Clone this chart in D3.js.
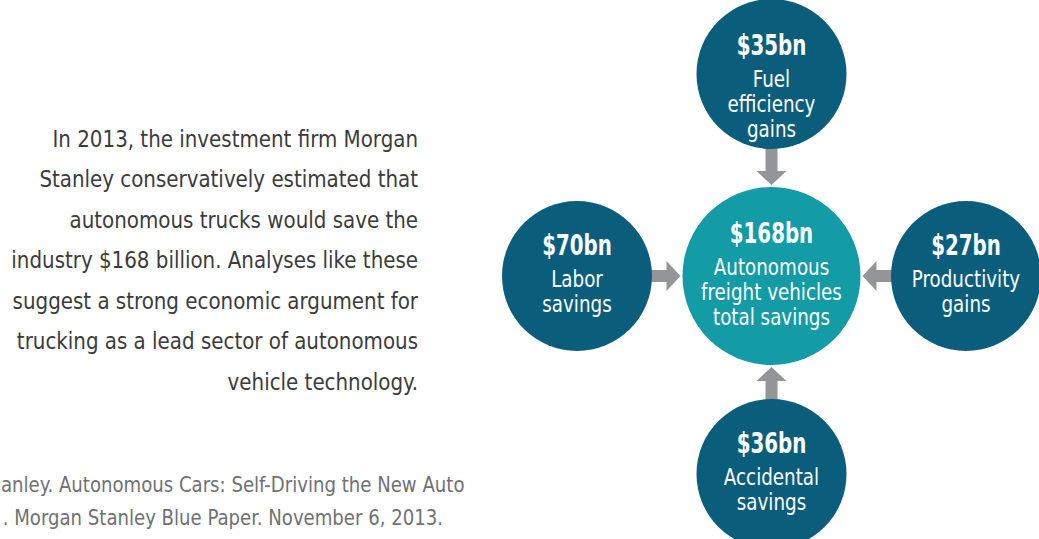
<!DOCTYPE html>
<html>
<head>
<meta charset="utf-8">
<script src="https://cdn.jsdelivr.net/npm/d3@7"></script>
<style>
  html, body { margin: 0; padding: 0; background: #fff; overflow: hidden; }
  #chart { width: 1039px; height: 539px; }
  text { font-family: "DejaVu Sans Condensed", "DejaVu Sans", sans-serif; }
</style>
</head>
<body>
<div id="chart"></div>
<script>
// data
var totalValue = 168;
var totalLabel = ["Autonomous", "freight vehicles", "total savings"];
var categories = ["Fuel efficiency gains", "Labor savings", "Productivity gains", "Accidental savings"];
var categoryLines = [["Fuel", "efficiency", "gains"], ["Labor", "savings"], ["Productivity", "gains"], ["Accidental", "savings"]];
var savings = [35, 70, 27, 36];
var slots = ["n", "w", "e", "s"];
var paragraph = [
    "In 2013, the investment firm Morgan",
    "Stanley conservatively estimated that",
    "autonomous trucks would save the",
    "industry $168 billion. Analyses like these",
    "suggest a strong economic argument for",
    "trucking as a lead sector of autonomous",
    "vehicle technology."
];
var footnote = [
    "anley. Autonomous Cars: Self-Driving the New Auto",
    ". Morgan Stanley Blue Paper. November 6, 2013."
];

function drawDiagram() {
    var width = 1039, height = 539;
    var svg = d3.select("#chart").append("svg")
        .attr("width", width)
        .attr("height", height);

    var darkColor = "#0b5e7b",
        centerColor = "#139ba6",
        arrowColor = "#949598";

    // the source font is a narrow one, so squeeze the glyphs horizontally
    var narrowValue = "scale(0.76,1)",
        narrowLabel = "scale(0.885,1)";

    var x = d3.scalePoint().domain(["w", "c", "e"]).range([577, 966]);
    var y = d3.scalePoint().domain(["n", "c", "s"]).range([74, 474]);
    var rSmall = 75, rBig = 89;

    function cx(slot) { return slot == "w" || slot == "e" ? x(slot) : x("c"); }
    function cy(slot) { return slot == "n" || slot == "s" ? y(slot) : y("c") + 2; }

    var nodes = savings.map(function(v, i) {
        return { value: v, name: categories[i], lines: categoryLines[i], slot: slots[i] };
    });

    // arrows from each satellite towards the centre
    var ccx = x("c"), ccy = y("c") + 2;
    var arrows = svg.append("g").attr("class", "arrows");
    nodes.forEach(function(d) {
        var sx = cx(d.slot), sy = cy(d.slot);
        var dx = ccx - sx, dy = ccy - sy;
        var dist = Math.sqrt(dx * dx + dy * dy);
        var ux = dx / dist, uy = dy / dist;
        var start = rSmall - 1, end = dist - rBig - 2;
        var len = end - start, headLen = 14, shaftW = 6, headW = 15;
        var pts = [
            [0, -shaftW], [len - headLen, -shaftW], [len - headLen, -headW],
            [len, 0], [len - headLen, headW], [len - headLen, shaftW], [0, shaftW]
        ];
        var angle = Math.atan2(uy, ux) * 180 / Math.PI;
        arrows.append("path")
            .attr("d", "M" + pts.map(function(p) { return p.join(","); }).join("L") + "Z")
            .attr("fill", arrowColor)
            .attr("transform", "translate(" + (sx + ux * start) + "," + (sy + uy * start) + ") rotate(" + angle + ")");
    });

    // satellite circles
    var sat = svg.selectAll(".sat")
        .data(nodes)
        .enter().append("g")
        .classed("sat", true)
        .attr("transform", function(d) { return "translate(" + cx(d.slot) + "," + cy(d.slot) + ")"; });

    sat.append("circle")
        .attr("r", rSmall)
        .attr("fill", darkColor);

    // first baseline offset depends on the number of label lines
    function topOffset(d) {
        if (d.slot == "n") return -19;
        return d.lines.length > 2 ? -33 : -21;
    }

    sat.append("text")
        .attr("text-anchor", "middle")
        .attr("y", topOffset)
        .attr("transform", narrowValue)
        .attr("fill", "#fff")
        .style("font-size", "29px")
        .style("font-weight", "bold")
        .text(function(d) { return "$" + d.value + "bn"; });

    sat.each(function(d) {
        var g = d3.select(this);
        var t = g.append("text")
            .attr("text-anchor", "middle")
            .attr("transform", narrowLabel)
            .attr("fill", "#fff")
            .style("font-size", "23px");
        d.lines.forEach(function(line, i) {
            t.append("tspan")
                .attr("x", 0)
                .attr("y", topOffset(d) + 32 + i * 25)
                .text(line);
        });
    });

    // centre circle
    var center = svg.append("g")
        .attr("transform", "translate(" + ccx + "," + ccy + ")");
    center.append("circle")
        .attr("r", rBig)
        .attr("fill", centerColor);
    center.append("text")
        .attr("text-anchor", "middle")
        .attr("y", -33)
        .attr("transform", narrowValue)
        .attr("fill", "#fff")
        .style("font-size", "29px")
        .style("font-weight", "bold")
        .text("$" + totalValue + "bn");
    var ct = center.append("text")
        .attr("text-anchor", "middle")
        .attr("transform", narrowLabel)
        .attr("fill", "#fff")
        .style("font-size", "23px");
    totalLabel.forEach(function(line, i) {
        ct.append("tspan").attr("x", 0).attr("y", -1 + i * 25).text(line);
    });

    // paragraph on the left, right aligned
    var para = svg.append("g")
        .attr("transform", "translate(418,0)")
        .append("text")
        .attr("text-anchor", "end")
        .attr("transform", "scale(0.96,1)")
        .attr("fill", "#3b3b3c")
        .style("font-size", "23px");
    paragraph.forEach(function(line, i) {
        para.append("tspan").attr("x", 0).attr("y", 147 + i * 40.5).text(line);
    });

    // source note, cut at the left edge
    var note = svg.append("text")
        .attr("transform", "scale(0.915,1)")
        .attr("fill", "#707174")
        .style("font-size", "22px");
    footnote.forEach(function(line, i) {
        note.append("tspan").attr("x", i == 0 ? 1 : 3).attr("y", 492 + i * 33).text(line);
    });
}

drawDiagram();
</script>
</body>
</html>
